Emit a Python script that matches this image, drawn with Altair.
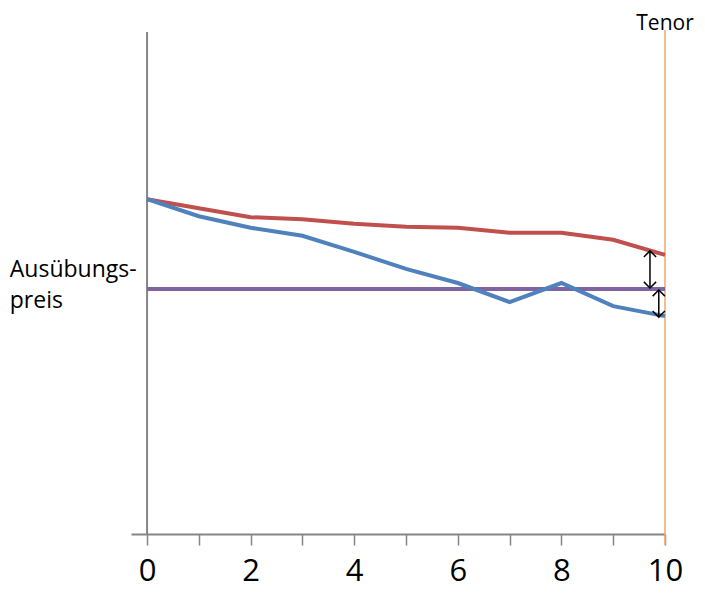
import altair as alt
import pandas as pd

# ---- data ----
years = [0, 1, 2, 3, 4, 5, 6, 7, 8, 9, 10]
forward_line = [66.7, 64.9, 63.1, 62.7, 61.8, 61.2, 61.0, 60.0, 60.0, 58.6, 55.6]
price_path = [66.7, 63.3, 61.0, 59.4, 56.2, 52.8, 50.0, 46.2, 50.0, 45.4, 43.4]
strike_x = [0, 10]
strike_level = 48.8
tenor_x = 10
tick_values = [0, 1, 2, 3, 4, 5, 6, 7, 8, 9, 10]

# double arrows (x position, top value, bottom value)
arrow_x = [9.71, 9.88]
arrow_top = [56.4, 48.6]
arrow_bottom = [49.0, 43.2]

W, H = 534, 502
xs = alt.Scale(domain=[-0.31, 10], range=[0, W], nice=False, zero=False)
ys = alt.Scale(domain=[0, 100], range=[H, 0], nice=False, zero=False)

lines_df = pd.DataFrame(
    {"t": years * 2, "v": forward_line + price_path,
     "s": ["fwd"] * len(years) + ["path"] * len(years)}
)
strike_df = pd.DataFrame({"t": strike_x, "v": [strike_level] * 2})
arrows_df = pd.DataFrame({"x": arrow_x, "top": arrow_top, "bottom": arrow_bottom})
yaxis_df = pd.DataFrame({"x": [0], "y": [0], "y2": [100]})
tenor_df = pd.DataFrame({"x": [tenor_x], "y": [-2.2], "y2": [100.4]})
tenor_lbl = pd.DataFrame({"x": [tenor_x], "y": [101.5], "txt": ["Tenor"]})
strike_lbl = pd.DataFrame({"x": [-2.65, -2.65], "y": [52.6, 46.4], "txt": ["Ausübungs-", "preis"]})
ticks_df = pd.DataFrame({"t": tick_values, "v": [0] * len(tick_values)})

x_axis = alt.Axis(
    values=tick_values, labelExpr="datum.value % 2 == 0 ? datum.label : ''",
    title=None, grid=False, domainColor="#868686", domainWidth=2,
    tickColor="#868686", tickSize=11, tickWidth=1.5,
    labelFontSize=31, labelColor="black", labelFont="Open Sans",
    labelPadding=11, labelOverlap=False, labelFlush=False,
)

base_x = alt.X("t:Q", scale=xs, axis=x_axis)

axis_layer = alt.Chart(ticks_df).mark_point(opacity=0).encode(
    x=base_x, y=alt.Y("v:Q", scale=ys, axis=None)
)

yaxis = alt.Chart(yaxis_df).mark_rule(color="#868686", strokeWidth=2).encode(
    x=alt.X("x:Q", scale=xs), y=alt.Y("y:Q", scale=ys), y2="y2:Q"
)

tenor = alt.Chart(tenor_df).mark_rule(color="#F4A46A", strokeWidth=1.5).encode(
    x=alt.X("x:Q", scale=xs), y=alt.Y("y:Q", scale=ys), y2="y2:Q"
)

strike = alt.Chart(strike_df).mark_line(color="#8064A2", strokeWidth=4).encode(
    x=alt.X("t:Q", scale=xs), y=alt.Y("v:Q", scale=ys)
)

lines = alt.Chart(lines_df).mark_line(strokeWidth=4).encode(
    x=alt.X("t:Q", scale=xs), y=alt.Y("v:Q", scale=ys),
    color=alt.Color("s:N", scale=alt.Scale(domain=["fwd", "path"], range=["#C0504D", "#4F81BD"]), legend=None),
)

arrow_shaft = alt.Chart(arrows_df).mark_rule(color="black", strokeWidth=1.5).encode(
    x=alt.X("x:Q", scale=xs), y=alt.Y("top:Q", scale=ys), y2="bottom:Q"
)
head_up = alt.Chart(arrows_df).mark_point(
    shape="M-1,1L0,0L1,1", filled=False, color="black", strokeWidth=1.5, size=150, opacity=1
).encode(x=alt.X("x:Q", scale=xs), y=alt.Y("top:Q", scale=ys))
head_down = alt.Chart(arrows_df).mark_point(
    shape="M-1,-1L0,0L1,-1", filled=False, color="black", strokeWidth=1.5, size=150, opacity=1
).encode(x=alt.X("x:Q", scale=xs), y=alt.Y("bottom:Q", scale=ys))

tenor_text = alt.Chart(tenor_lbl).mark_text(
    font="Open Sans", fontSize=21, color="black", align="center", baseline="middle"
).encode(x=alt.X("x:Q", scale=xs), y=alt.Y("y:Q", scale=ys), text="txt:N")

strike_text = alt.Chart(strike_lbl).mark_text(
    font="Open Sans", fontSize=23, color="black", align="left", baseline="middle"
).encode(x=alt.X("x:Q", scale=xs), y=alt.Y("y:Q", scale=ys), text="txt:N")

chart = alt.layer(
    axis_layer, yaxis, tenor, strike, lines, arrow_shaft, head_up, head_down,
    tenor_text, strike_text,
).properties(
    width=W, height=H,
    background="white",
    autosize=alt.AutoSizeParams(type="none"),
    padding={"left": 123, "top": 24, "right": 32, "bottom": 55},
).configure_view(stroke=None, strokeWidth=0)

chart.save("out.html", embed_options={"renderer": "svg", "actions": False})
